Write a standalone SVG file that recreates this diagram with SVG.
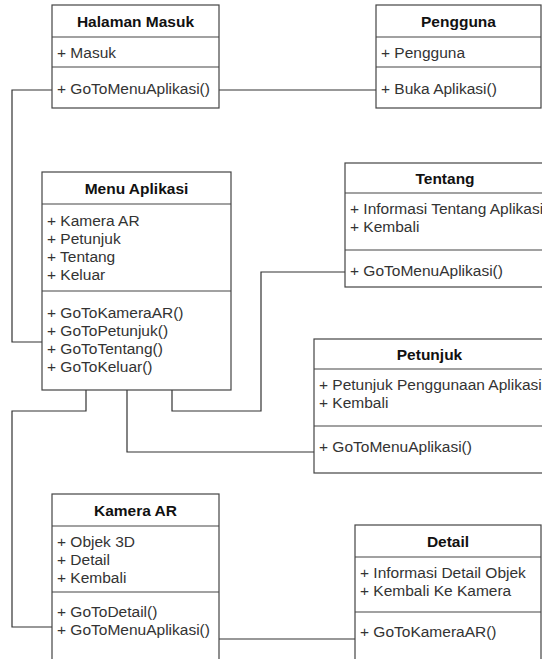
<svg xmlns="http://www.w3.org/2000/svg" width="542" height="659" viewBox="0 0 542 659">
<style>
.box{fill:#fff;stroke:#444;stroke-width:1.2}
.div{stroke:#444;stroke-width:1.2}
.t{font-family:"Liberation Sans",Arial,sans-serif;font-size:15.5px;font-weight:bold;fill:#111;text-anchor:middle}
.a{font-family:"Liberation Sans",Arial,sans-serif;font-size:15.5px;fill:#333}
.c{fill:none;stroke:#333;stroke-width:1.2}
</style>
<rect width="542" height="659" fill="#fff"/>
<g id="connectors">
<polyline class="c" points="52,90 12,90 12,342 42,342"/>
<polyline class="c" points="219,90 376,90"/>
<polyline class="c" points="86,390 86,411 12,411 12,627 52,627"/>
<polyline class="c" points="127,390 127,452 314,452"/>
<polyline class="c" points="172,390 172,411 261,411 261,272 345,272"/>
<polyline class="c" points="219,639 355,639"/>
</g>
<g id="halaman-masuk">
<rect class="box" x="52" y="5" width="167" height="103"/>
<line class="div" x1="52" y1="37" x2="219" y2="37"/>
<line class="div" x1="52" y1="67" x2="219" y2="67"/>
<text class="t" x="135.5" y="27">Halaman Masuk</text>
<text class="a" x="57" y="58">+ Masuk</text>
<text class="a" x="57" y="94">+ GoToMenuAplikasi()</text>
</g>
<g id="pengguna">
<rect class="box" x="376" y="5" width="165" height="103"/>
<line class="div" x1="376" y1="37" x2="541" y2="37"/>
<line class="div" x1="376" y1="67" x2="541" y2="67"/>
<text class="t" x="458.5" y="27">Pengguna</text>
<text class="a" x="381" y="58">+ Pengguna</text>
<text class="a" x="381" y="94">+ Buka Aplikasi()</text>
</g>
<g id="menu-aplikasi">
<rect class="box" x="42" y="172" width="189" height="218"/>
<line class="div" x1="42" y1="204" x2="231" y2="204"/>
<line class="div" x1="42" y1="291" x2="231" y2="291"/>
<text class="t" x="136.5" y="194">Menu Aplikasi</text>
<text class="a" x="47" y="226">+ Kamera AR</text>
<text class="a" x="47" y="244">+ Petunjuk</text>
<text class="a" x="47" y="262">+ Tentang</text>
<text class="a" x="47" y="280">+ Keluar</text>
<text class="a" x="47" y="318">+ GoToKameraAR()</text>
<text class="a" x="47" y="336">+ GoToPetunjuk()</text>
<text class="a" x="47" y="354">+ GoToTentang()</text>
<text class="a" x="47" y="372">+ GoToKeluar()</text>
</g>
<g id="tentang">
<rect class="box" x="345" y="163" width="200" height="124"/>
<line class="div" x1="345" y1="193" x2="545" y2="193"/>
<line class="div" x1="345" y1="250" x2="545" y2="250"/>
<text class="t" x="445" y="184">Tentang</text>
<text class="a" x="350" y="214">+ Informasi Tentang Aplikasi</text>
<text class="a" x="350" y="232">+ Kembali</text>
<text class="a" x="350" y="276">+ GoToMenuAplikasi()</text>
</g>
<g id="petunjuk">
<rect class="box" x="314" y="339" width="231" height="134"/>
<line class="div" x1="314" y1="369" x2="545" y2="369"/>
<line class="div" x1="314" y1="426" x2="545" y2="426"/>
<text class="t" x="429.5" y="360">Petunjuk</text>
<text class="a" x="319" y="390">+ Petunjuk Penggunaan Aplikasi</text>
<text class="a" x="319" y="408">+ Kembali</text>
<text class="a" x="319" y="452">+ GoToMenuAplikasi()</text>
</g>
<g id="kamera-ar">
<rect class="box" x="52" y="494" width="167" height="180"/>
<line class="div" x1="52" y1="526" x2="219" y2="526"/>
<line class="div" x1="52" y1="592" x2="219" y2="592"/>
<text class="t" x="135.5" y="516">Kamera AR</text>
<text class="a" x="57" y="547">+ Objek 3D</text>
<text class="a" x="57" y="565">+ Detail</text>
<text class="a" x="57" y="583">+ Kembali</text>
<text class="a" x="57" y="617">+ GoToDetail()</text>
<text class="a" x="57" y="635">+ GoToMenuAplikasi()</text>
</g>
<g id="detail">
<rect class="box" x="355" y="525" width="186" height="150"/>
<line class="div" x1="355" y1="557" x2="541" y2="557"/>
<line class="div" x1="355" y1="612" x2="541" y2="612"/>
<text class="t" x="448" y="547">Detail</text>
<text class="a" x="360" y="578">+ Informasi Detail Objek</text>
<text class="a" x="360" y="596">+ Kembali Ke Kamera</text>
<text class="a" x="360" y="637">+ GoToKameraAR()</text>
</g>
</svg>
